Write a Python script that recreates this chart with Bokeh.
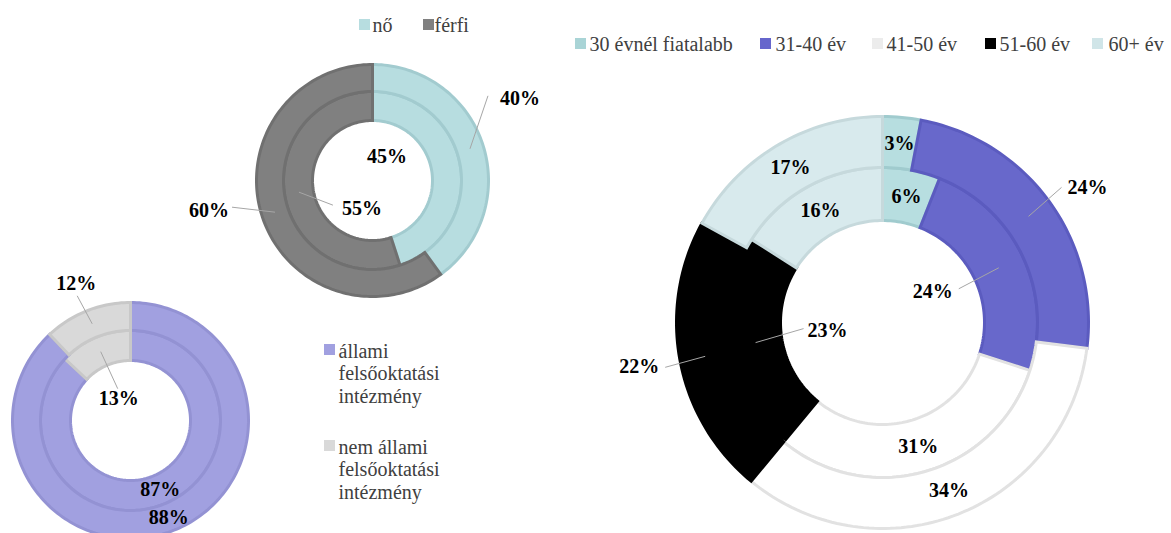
import textwrap
import numpy as np
from bokeh.plotting import figure
from bokeh.models import Range1d
from bokeh.core.properties import value
from bokeh.embed import file_html
from bokeh.resources import INLINE

# ---------------- data ----------------
gender_cats = ["nő", "férfi"]
gender_outer = [40, 60]
gender_inner = [45, 55]

inst_cats = ["állami felsőoktatási intézmény", "nem állami felsőoktatási intézmény"]
inst_outer = [88, 12]
inst_inner = [87, 13]

age_cats = ["30 évnél fiatalabb", "31-40 év", "41-50 év", "51-60 év", "60+ év"]
age_outer = [3, 24, 34, 22, 17]
age_inner = [6, 24, 31, 23, 16]

# ---------------- styles ----------------
FONT = value("Times New Roman")
gender_fill = ["#b7dde0", "#808080"]
gender_line = ["#a2cbcf", "#707070"]
inst_fill = ["#a1a0e0", "#d9d9d9"]
inst_line = ["#9392d3", "#c8c8c8"]
age_fill = ["#b7dee0", "#6868cb", "#ffffff", "#000000", "#d8eaed"]
age_line = ["#a0cbce", "#5b5bbf", "#e2e2e2", "#000000", "#c6d9dc"]
age_legend = ["#a9d4d6", "#6666cc", "#ececec", "#000000", "#d0e5e8"]

p = figure(width=1171, height=533, x_range=Range1d(0, 1171), y_range=Range1d(533, 0),
           toolbar_location=None, output_backend="svg", min_border=0)
p.axis.visible = False
p.grid.visible = False
p.outline_line_color = None
p.background_fill_color = "#ffffff"
p.border_fill_color = "#ffffff"


def wedge_poly(cx, cy, r0, r1, a0, a1):
    n = max(4, int(np.degrees(a1 - a0) / 1.5) + 2)
    t = np.linspace(a0, a1, n)
    xo = cx + r1 * np.sin(t)
    yo = cy - r1 * np.cos(t)
    xi = cx + r0 * np.sin(t[::-1])
    yi = cy - r0 * np.cos(t[::-1])
    return list(np.concatenate([xo, xi])), list(np.concatenate([yo, yi]))


def donut(cx, cy, radii, rings, fills, lines, lw, adjust):
    # rings: [inner_values, outer_values]; radii: [r_in, r_mid, r_out]
    lab_x, lab_y, lab_t = [], [], []
    seg = ([], [], [], [])
    for ri, vals in enumerate(rings):
        r0, r1 = radii[ri], radii[ri + 1]
        rm = (r0 + r1) / 2
        total = float(sum(vals))
        xs, ys = [], []
        cum = 0.0
        for i, v in enumerate(vals):
            a0 = cum / total * 2 * np.pi
            a1 = (cum + v) / total * 2 * np.pi
            cum += v
            px, py = wedge_poly(cx, cy, r0, r1, a0, a1)
            xs.append(px)
            ys.append(py)
            am = (a0 + a1) / 2
            ax, ay = cx + rm * np.sin(am), cy - rm * np.cos(am)
            adj = adjust.get((ri, i))
            if adj is None:
                lab_x.append(ax); lab_y.append(ay)
            else:
                dx, dy = adj[0], adj[1]
                lab_x.append(ax + dx); lab_y.append(ay + dy)
                if len(adj) == 4:
                    seg[0].append(ax); seg[1].append(ay)
                    seg[2].append(ax + dx + adj[2]); seg[3].append(ay + dy + adj[3])
            lab_t.append(f"{v}%")
        p.patches(xs, ys, fill_color=fills, line_color=lines, line_width=lw,
                  line_join="miter")
    if seg[0]:
        p.segment(seg[0], seg[1], seg[2], seg[3], line_color="#a6a6a6", line_width=1)
    p.text(lab_x, lab_y, text=lab_t, text_font=FONT, text_font_style="bold",
           text_font_size="20px", text_align="center", text_baseline="middle",
           text_color="#000000")


# gender donut (ring 0 = inner, ring 1 = outer)
donut(372, 180, [60, 89, 116], [gender_inner, gender_outer], gender_fill, gender_line, 3,
      {(1, 0): (50, -51, -32, -2), (1, 1): (-66, -2, 23, -3),
       (0, 0): (-59, -13), (0, 1): (63, 16, -29, -3)})

# institution donut
donut(130, 420, [60, 90, 118], [inst_inner, inst_outer], inst_fill, inst_line, 3,
      {(1, 1): (-16, -41, 1, 13), (0, 1): (18, 46, -1, -9)})

# age donut
donut(882, 322, [102, 155, 206], [age_inner, age_outer], age_fill, age_line, 3,
      {(1, 1): (59, -29, -26, 0), (1, 3): (-66, 10, 26, 1),
       (0, 1): (-66, 23, 26, -2), (0, 3): (72, -13, -24, -1)})

# ---------------- legends ----------------
def legend_row(items, colors, sq_x, txt_x, y):
    p.scatter(sq_x, [y] * len(items), marker="square", size=11, fill_color=colors,
              line_color=None)
    p.text(txt_x, [y] * len(items), text=items, text_font=FONT, text_font_size="20px",
           text_align="left", text_baseline="middle", text_color="#404040")


legend_row(gender_cats, gender_fill, [364, 428], [372, 434], 24)
legend_row(age_cats, age_legend, [580, 765, 877, 990, 1097], [589, 775, 886, 999, 1108], 43)

for i, (cat, col) in enumerate(zip(inst_cats, inst_fill)):
    y0 = 349 + i * 96
    p.scatter([329], [y0], marker="square", size=11, fill_color=col, line_color=None)
    lines_ = textwrap.wrap(cat, width=13)
    p.text([338] * len(lines_), [y0 + 1 + k * 22.5 for k in range(len(lines_))], text=lines_,
           text_font=FONT, text_font_size="20px", text_align="left",
           text_baseline="middle", text_color="#404040")

open("out.html", "w").write(file_html(p, INLINE))
